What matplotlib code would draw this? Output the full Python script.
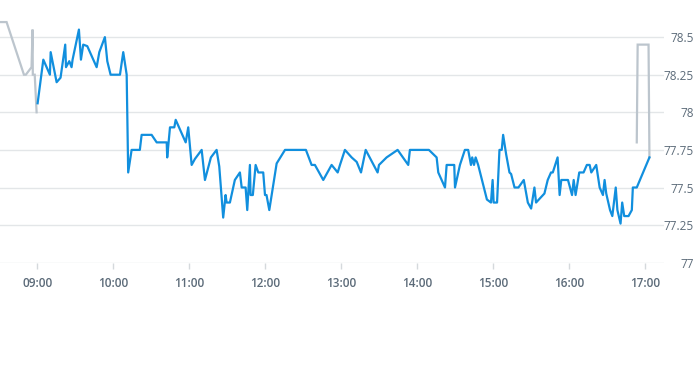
import matplotlib
matplotlib.use("Agg")
import matplotlib.pyplot as plt

# minutes after 09:00 and prices
pre_t = [-30, -24.2, -10.5, -9.0, -4.5, -3.7, -3.5, -2.0, -0.5]
pre_v = [78.60, 78.60, 78.25, 78.25, 78.30, 78.55, 78.25, 78.25, 78.00]

blue_t = [0.3, 4.8, 10.0, 10.6, 15.3, 18.4, 22.1, 22.7, 25.3, 27.1, 27.9, 32.9, 34.5, 36.3,
          39.5, 46.9, 49.0, 53.4, 55.3, 57.9, 65.3, 67.9, 70.6,
          71.8, 74.5, 81.0, 82.4, 90.3, 94.3, 102.2, 102.6, 104.8, 108.2, 109.3, 117.2, 119.2,
          121.9, 124.5, 129.8, 132.4, 137.1, 141.6, 143.7, 146.8, 148.7, 149.5, 152.1, 156.0,
          160.0, 161.4, 164.5, 165.8, 167.9, 168.4, 170.2, 172.4, 174.5, 178.4, 179.8, 181.0,
          183.2, 189.0, 195.6, 212.1, 216.6, 219.2, 225.8, 232.4, 237.2, 239.0, 242.9, 248.2,
          252.2, 255.6, 259.3, 268.7, 269.8, 275.8, 284.5, 292.9, 294.2, 309.2, 315.3, 316.6,
          321.9, 323.2, 329.2, 329.8, 333.7, 337.6, 340.2, 342.4, 343.4, 344.8, 346.1, 348.1,
          350.8, 355.0, 358.2, 359.5, 360.3, 363.0, 364.9, 366.7, 367.8, 370.2, 372.8, 374.1,
          376.8, 379.9, 384.1, 387.3, 389.9, 392.5, 393.8, 400.4, 403.0, 405.6, 407.0, 410.8,
          412.4, 413.7, 419.0, 422.2, 423.5, 425.0, 427.9, 431.3, 433.9, 436.1, 437.4, 441.3,
          444.0, 446.6, 447.9, 449.2, 452.2, 454.0, 456.7, 458.0, 460.5, 461.8, 463.4, 466.8,
          469.4, 470.2, 473.3, 483.3]
blue_v = [78.06, 78.35, 78.25, 78.40, 78.20, 78.23, 78.45, 78.30, 78.34, 78.30, 78.35, 78.55, 78.35, 78.45,
          78.44, 78.30, 78.40, 78.50, 78.34, 78.25, 78.25, 78.40, 78.25,
          77.60, 77.75, 77.75, 77.85, 77.85, 77.80, 77.80, 77.70, 77.90, 77.90, 77.95, 77.80, 77.90,
          77.65, 77.69, 77.75, 77.55, 77.70, 77.75, 77.64, 77.30, 77.45, 77.40, 77.40, 77.55,
          77.60, 77.50, 77.50, 77.35, 77.65, 77.45, 77.45, 77.65, 77.60, 77.60, 77.45, 77.45,
          77.35, 77.66, 77.75, 77.75, 77.65, 77.65, 77.55, 77.65, 77.60, 77.65, 77.75, 77.70,
          77.67, 77.60, 77.75, 77.60, 77.65, 77.70, 77.75, 77.65, 77.75, 77.75, 77.70, 77.60,
          77.50, 77.65, 77.65, 77.50, 77.65, 77.75, 77.75, 77.65, 77.70, 77.65, 77.70, 77.65,
          77.56, 77.42, 77.40, 77.55, 77.40, 77.40, 77.75, 77.75, 77.85, 77.72, 77.60, 77.59,
          77.50, 77.50, 77.55, 77.40, 77.36, 77.50, 77.40, 77.46, 77.55, 77.60, 77.60, 77.70,
          77.45, 77.55, 77.55, 77.45, 77.55, 77.45, 77.60, 77.60, 77.65, 77.65, 77.60, 77.65,
          77.50, 77.45, 77.55, 77.46, 77.35, 77.31, 77.50, 77.35, 77.26, 77.40, 77.31, 77.31,
          77.35, 77.50, 77.50, 77.70]

post_t = [473.3, 474.0, 482.6, 483.3]
post_v = [77.80, 78.45, 78.45, 77.70]

xtick_pos = [0, 60, 120, 180, 240, 300, 360, 420, 480]
xtick_labels = ["09:00", "10:00", "11:00", "12:00", "13:00", "14:00", "15:00", "16:00", "17:00"]
ytick_pos = [77, 77.25, 77.5, 77.75, 78, 78.25, 78.5]
ytick_labels = ["77", "77.25", "77.5", "77.75", "78", "78.25", "78.5"]

plt.rcParams['font.family'] = ['Open Sans', 'DejaVu Sans']

fig = plt.figure(figsize=(6.95, 3.70), dpi=100)
ax = fig.add_axes([0, 1 - 262.7 / 370, 664 / 695, 262.7 / 370])

ax.plot(pre_t, pre_v, color="#bcc5cd", lw=1.6, solid_joinstyle="miter", zorder=3)
ax.plot(post_t, post_v, color="#bcc5cd", lw=1.6, solid_joinstyle="miter", zorder=3)
ax.plot(blue_t, blue_v, color="#118fde", lw=1.6, zorder=4)

ax.set_xlim(-29.4, 494.8)
ax.set_ylim(77, 77 + 262.7 / 150.4)

for s in ax.spines.values():
    s.set_visible(False)

ax.set_yticks(ytick_pos)
ax.set_yticklabels(ytick_labels)
ax.yaxis.tick_right()
ax.tick_params(axis='y', length=0, pad=21.6, labelsize=8.5, labelcolor="#5c6b79")
for lab in ax.get_yticklabels():
    lab.set_horizontalalignment('right')
ax.grid(axis='y', color="#e3e6e8", lw=1.0, zorder=0)

ax.set_xticks(xtick_pos)
ax.set_xticklabels(xtick_labels)
ax.tick_params(axis='x', length=4, width=1, color="#d5d9dc", pad=6, labelsize=8.5,
               labelcolor="#5c6b79")
for lab in ax.get_xticklabels():
    lab.set_fontweight('semibold')

fig.savefig("out.png", dpi=100)
